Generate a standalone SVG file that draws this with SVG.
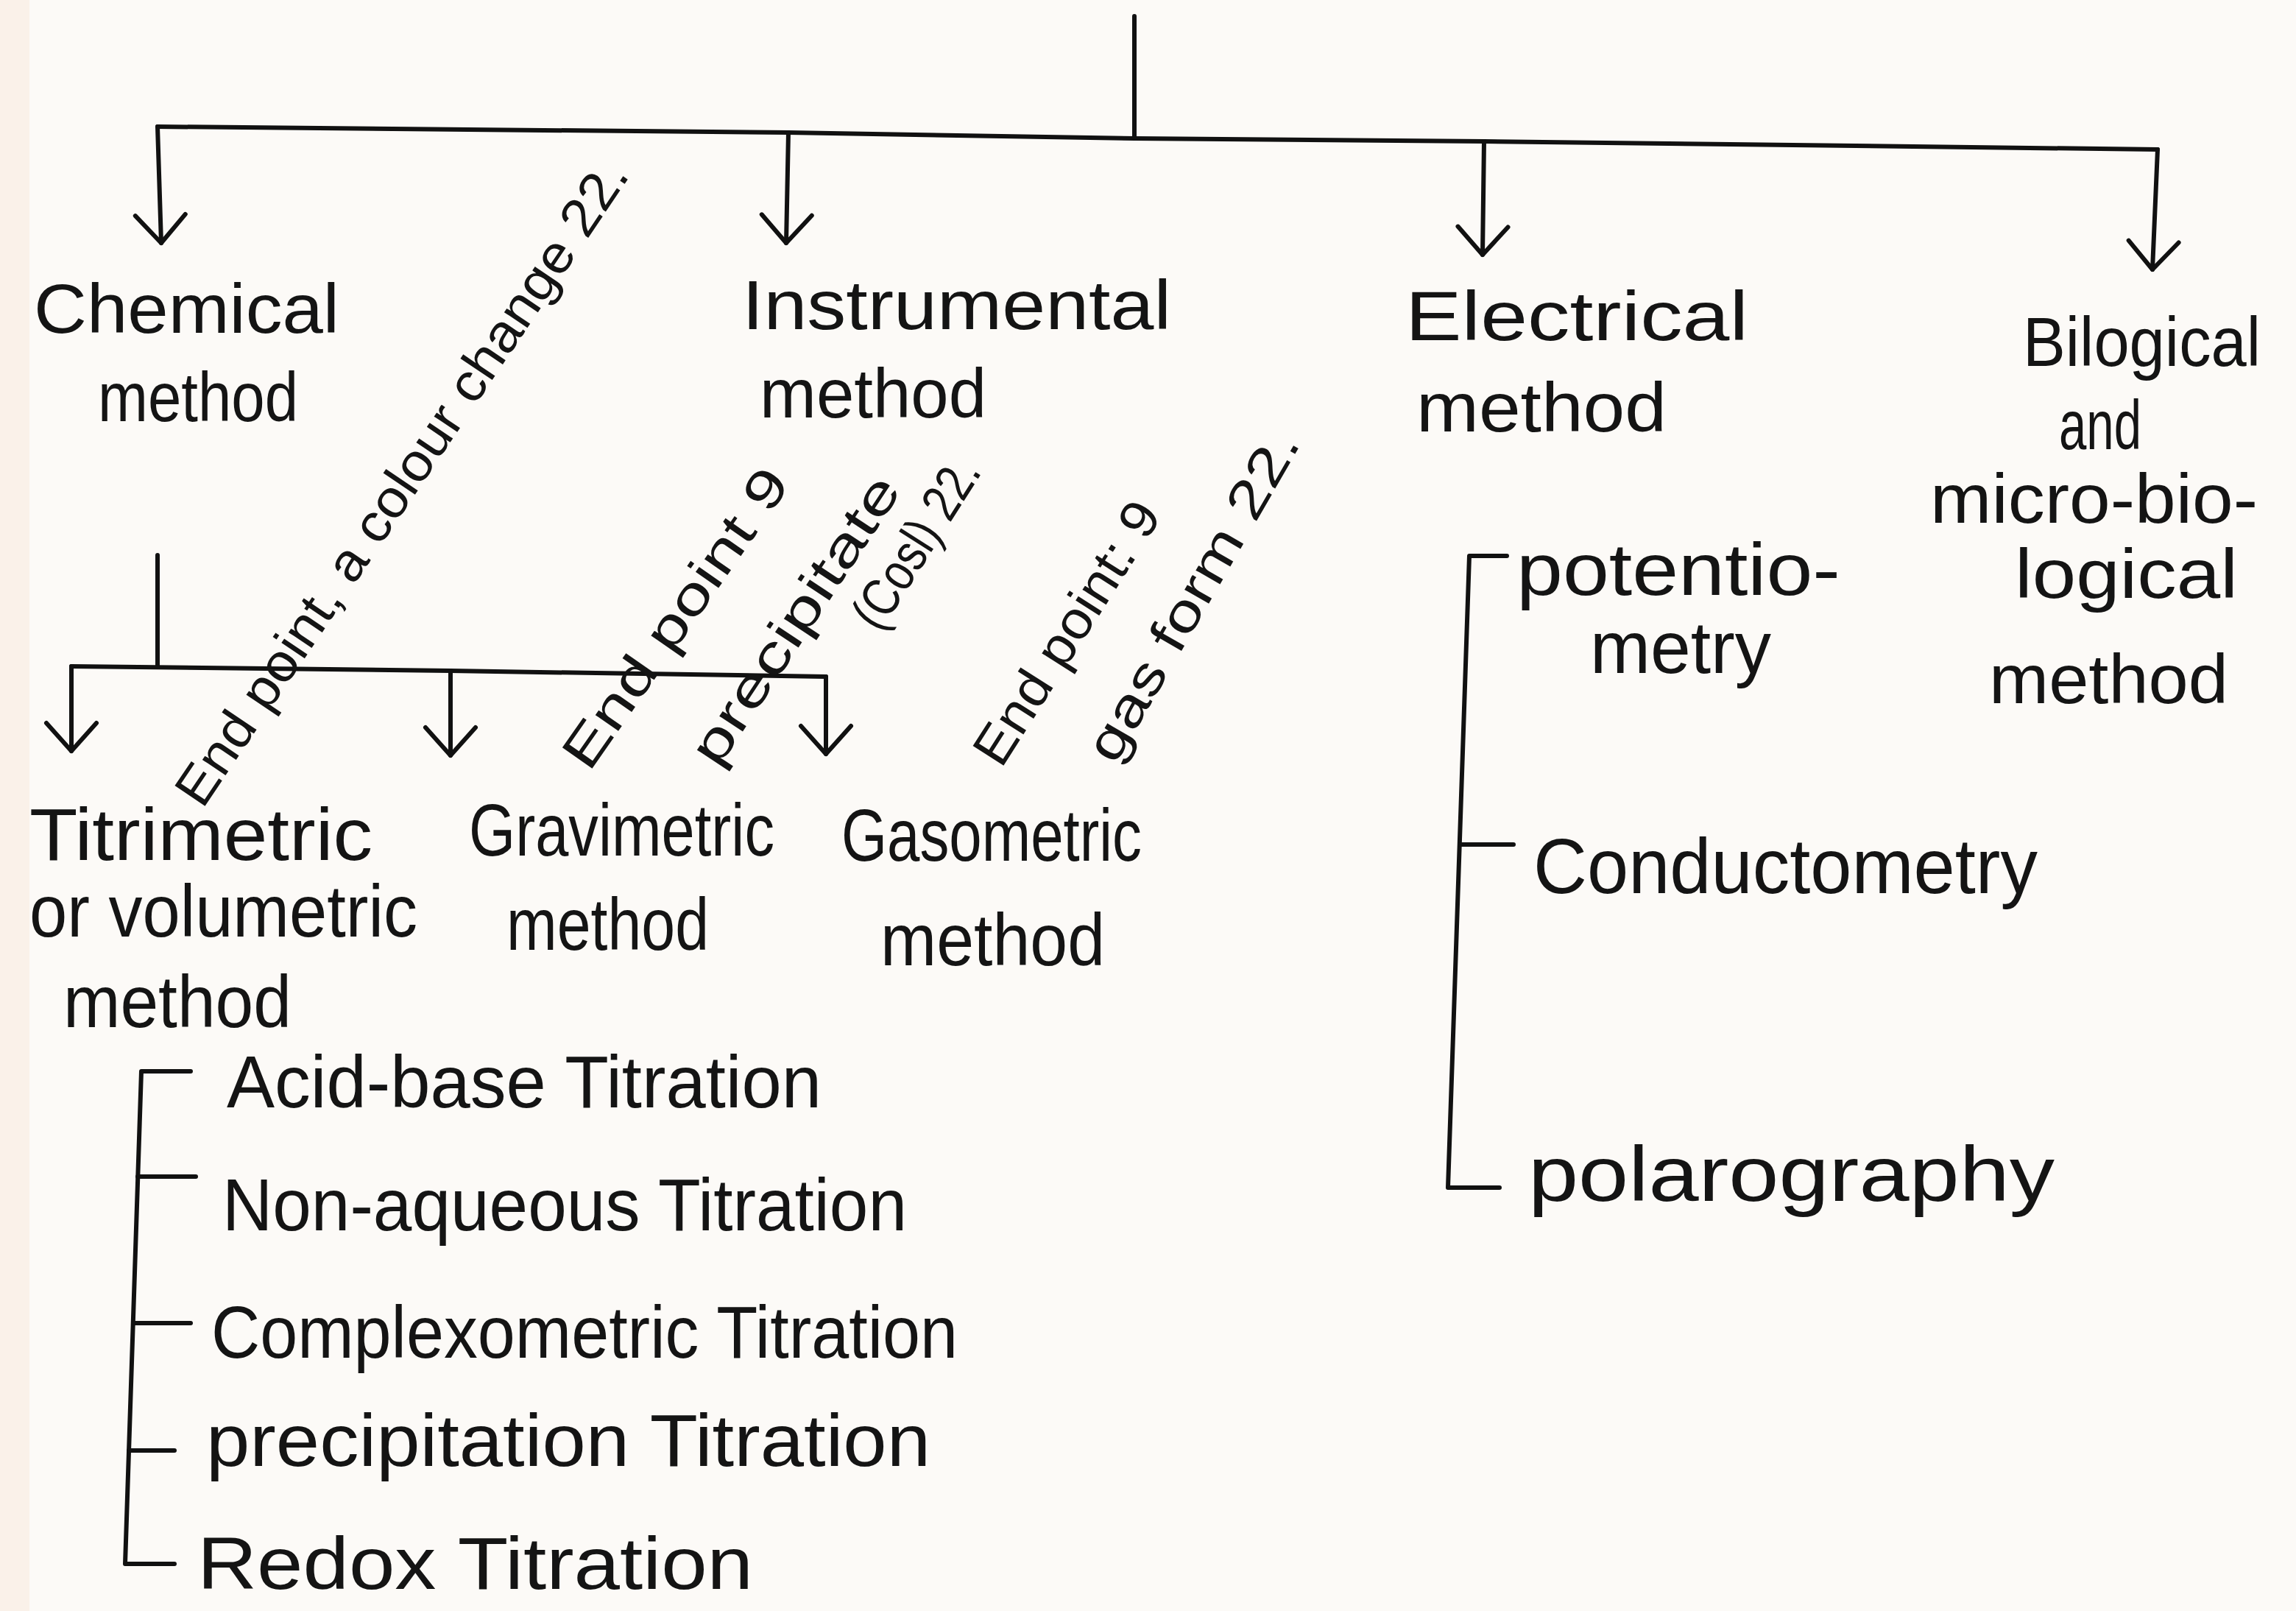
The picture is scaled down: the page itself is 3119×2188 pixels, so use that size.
<svg xmlns="http://www.w3.org/2000/svg" width="3119" height="2188" viewBox="0 0 3119 2188">
<defs>
<marker id="v" markerUnits="userSpaceOnUse" markerWidth="90" markerHeight="90" viewBox="-45 -45 90 90" refX="0" refY="0" orient="auto">
<path d="M-38,-34 L0,0 L-38,34" fill="none" stroke="#111" stroke-width="6" stroke-linecap="round" stroke-linejoin="round"/>
</marker>
<style>
text{font-family:"Liberation Sans","DejaVu Sans",sans-serif;fill:#141414;}
.h{font-size:95px;}
.s{font-size:100px;}
.r{font-size:72px;}
.ln{fill:none;stroke:#111;stroke-width:6;stroke-linecap:round;stroke-linejoin:round;}
.ar{marker-end:url(#v);}
</style>
</defs>
<rect x="0" y="0" width="3119" height="2188" fill="#fcfaf7"/>
<rect x="0" y="0" width="40" height="2188" fill="#f8ebe0" opacity="0.6"/>

<g id="connectors">
<path class="ln" d="M1541,22 L1541,188"/>
<path class="ln" d="M214,172 L1071,180 L1541,188 L2016,192 L2931,203"/>
<path class="ln ar" d="M214,172 L219,330"/>
<path class="ln ar" d="M1071,180 L1068,330"/>
<path class="ln ar" d="M2016,192 L2014,346"/>
<path class="ln ar" d="M2931,203 L2924,366"/>
<path class="ln" d="M214,754 L214,905"/>
<path class="ln" d="M97,905 L612,911 L1122,919"/>
<path class="ln ar" d="M97,905 L97,1020"/>
<path class="ln ar" d="M612,911 L612,1026"/>
<path class="ln ar" d="M1122,919 L1122,1024"/>
<path class="ln" d="M259,1455 L192,1455 L170,2124 L237,2124"/>
<path class="ln" d="M187,1598 L266,1598"/>
<path class="ln" d="M181,1797 L259,1797"/>
<path class="ln" d="M175,1970 L237,1970"/>
<path class="ln" d="M2047,755 L1996,755 L1967,1613 L2037,1613"/>
<path class="ln" d="M1983,1147 L2056,1147"/>
</g>

<g id="chemical">
<text class="h" x="46" y="452" textLength="415" lengthAdjust="spacingAndGlyphs">Chemical</text>
<text class="h" x="133" y="572" textLength="272" lengthAdjust="spacingAndGlyphs">method</text>
</g>
<g id="instrumental">
<text class="h" x="1008" y="447" textLength="583" lengthAdjust="spacingAndGlyphs">Instrumental</text>
<text class="h" x="1032" y="567" textLength="308" lengthAdjust="spacingAndGlyphs">method</text>
</g>
<g id="electrical">
<text class="h" x="1909" y="462" textLength="466" lengthAdjust="spacingAndGlyphs">Electrical</text>
<text class="h" x="1924" y="586" textLength="340" lengthAdjust="spacingAndGlyphs">method</text>
</g>
<g id="biological">
<text class="h" x="2748" y="497" textLength="323" lengthAdjust="spacingAndGlyphs">Bilogical</text>
<text class="h" x="2797" y="610" textLength="112" lengthAdjust="spacingAndGlyphs">and</text>
<text class="h" x="2622" y="710" textLength="445" lengthAdjust="spacingAndGlyphs">micro-bio-</text>
<text class="h" x="2737" y="812" textLength="303" lengthAdjust="spacingAndGlyphs">logical</text>
<text class="h" x="2702" y="955" textLength="325" lengthAdjust="spacingAndGlyphs">method</text>
</g>

<g id="titrimetric">
<text class="s" x="40" y="1168" textLength="466" lengthAdjust="spacingAndGlyphs">Titrimetric</text>
<text class="s" x="40" y="1272" textLength="527" lengthAdjust="spacingAndGlyphs">or volumetric</text>
<text class="s" x="86" y="1395" textLength="310" lengthAdjust="spacingAndGlyphs">method</text>
</g>
<g id="gravimetric">
<text class="s" x="637" y="1162" textLength="415" lengthAdjust="spacingAndGlyphs">Gravimetric</text>
<text class="s" x="688" y="1290" textLength="275" lengthAdjust="spacingAndGlyphs">method</text>
</g>
<g id="gasometric">
<text class="s" x="1143" y="1169" textLength="408" lengthAdjust="spacingAndGlyphs">Gasometric</text>
<text class="s" x="1196" y="1311" textLength="305" lengthAdjust="spacingAndGlyphs">method</text>
</g>

<g id="acid-base"><text class="s" x="308" y="1504" textLength="808" lengthAdjust="spacingAndGlyphs">Acid-base Titration</text></g>
<g id="non-aqueous"><text class="s" x="302" y="1671" textLength="930" lengthAdjust="spacingAndGlyphs">Non-aqueous Titration</text></g>
<g id="complexometric"><text class="s" x="287" y="1844" textLength="1014" lengthAdjust="spacingAndGlyphs">Complexometric Titration</text></g>
<g id="precipitation"><text class="s" x="280" y="1991" textLength="984" lengthAdjust="spacingAndGlyphs">precipitation Titration</text></g>
<g id="redox"><text class="s" x="268" y="2158" textLength="755" lengthAdjust="spacingAndGlyphs">Redox Titration</text></g>

<g id="potentiometry">
<text class="s" x="2060" y="808" textLength="440" lengthAdjust="spacingAndGlyphs">potentio-</text>
<text class="s" x="2160" y="914" textLength="246" lengthAdjust="spacingAndGlyphs">metry</text>
</g>
<g id="conductometry"><text class="s" x="2083" y="1213" textLength="685" lengthAdjust="spacingAndGlyphs" style="font-size:105px">Conductometry</text></g>
<g id="polarography"><text class="s" x="2076" y="1631" textLength="715" lengthAdjust="spacingAndGlyphs" style="font-size:105px">polarography</text></g>

<g id="note-colour">
<text class="r" transform="translate(275,1100) rotate(-56)" textLength="1040" lengthAdjust="spacingAndGlyphs">End point, a colour change 22.</text>
</g>
<g id="note-precipitate">
<text class="r" transform="translate(800,1050) rotate(-55)" textLength="480" lengthAdjust="spacingAndGlyphs">End point 9</text>
<text class="r" transform="translate(975,1045) rotate(-56.5)" textLength="455" lengthAdjust="spacingAndGlyphs">precipitate</text>
<text class="r" transform="translate(1195,860) rotate(-57.5)" textLength="260" lengthAdjust="spacingAndGlyphs">(Cosl) 22.</text>
</g>
<g id="note-gas">
<text class="r" transform="translate(1360,1045) rotate(-57.5)" textLength="409" lengthAdjust="spacingAndGlyphs">End point: 9</text>
<text class="r" transform="translate(1515,1040) rotate(-60)" textLength="506" lengthAdjust="spacingAndGlyphs">gas form 22.</text>
</g>
</svg>
